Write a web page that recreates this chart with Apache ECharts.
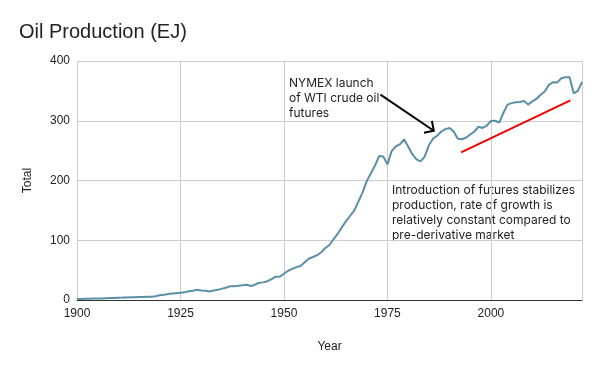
<!DOCTYPE html>
<html>
<head>
<meta charset="utf-8">
<script src="https://cdn.jsdelivr.net/npm/echarts@6/dist/echarts.min.js"></script>
<style>
  html, body { margin: 0; padding: 0; background: #fff; }
  #chart { width: 600px; height: 371px; }
</style>
</head>
<body>
<div id="chart"></div>
<script>
// ---- Data ----
const startYear = 1900;
const production = [
  1.5, 1.7, 1.9, 2.1, 2.4, 2.5, 2.6, 3.0, 3.3, 3.5,          // 1900-1909
  3.9, 4.0, 4.2, 4.5, 4.6, 4.9, 5.2, 5.6, 5.6, 6.3,          // 1910-1919
  7.8, 8.6, 9.9, 11.0, 11.5, 12.0, 12.8, 14.6, 15.6, 17.0,   // 1920-1929
  16.0, 15.3, 14.3, 15.8, 17.0, 19.0, 20.5, 23.2, 23.0, 24.0, // 1930-1939
  24.5, 25.5, 23.5, 25.5, 29.0, 29.5, 31.5, 35.0, 39.0, 39.0, // 1940-1949
  44, 49, 52, 55, 57, 63, 69, 72, 75, 80,                    // 1950-1959
  87, 92, 102, 111, 122, 132, 141, 150, 165, 180,            // 1960-1969
  199, 212, 225, 241, 240, 227, 249, 257, 260.5, 269,        // 1970-1979
  257, 244, 235.5, 232, 240, 259, 270, 275, 282, 286,        // 1980-1989
  288, 282, 270, 269, 271.5, 277, 282, 290, 288, 292,        // 1990-1999
  299.5, 300, 297, 313, 327, 329.5, 331, 331.5, 333, 327,    // 2000-2009
  332.5, 336.5, 343.5, 349, 360, 364.5, 364, 371, 373, 373,  // 2010-2019
  346, 350, 365                                              // 2020-2022
];
const years = production.map((_, i) => startYear + i);

// red trend annotation (year, value)
const trendYears = [1992.8, 2019.2];
const trendValues = [247, 334];

// arrow annotation (from, to) in (year, value)
const arrowYears = [1973.3, 1986.2];
const arrowValues = [343.6, 283.2];

const xTicks = [1900, 1925, 1950, 1975, 2000];
const yTicks = [0, 100, 200, 300, 400];

const titleText = 'Oil Production (EJ)';
const xName = 'Year';
const yName = 'Total';
const note1 = 'NYMEX launch\nof WTI crude oil\nfutures';
const note2 = 'Introduction of futures stabilizes\nproduction, rate of growth is\nrelatively constant compared to\npre-derivative market';

// ---- Chart ----
const chart = echarts.init(document.getElementById('chart'), null, { renderer: 'canvas' });
const axisFont = 'Liberation Sans, Arial, sans-serif';
const noteFont = 'Inter, sans-serif';

const option = {
  animation: false,
  backgroundColor: '#ffffff',
  title: {
    text: titleText,
    left: 14,
    top: 17,
    textStyle: { fontFamily: axisFont, fontSize: 20, fontWeight: 'normal', color: '#222' }
  },
  grid: { left: 77, right: 18, top: 61, bottom: 71, containLabel: false },
  xAxis: {
    type: 'value',
    min: xTicks[0],
    max: years[years.length - 1],
    interval: xTicks[1] - xTicks[0],
    name: xName,
    nameLocation: 'middle',
    nameGap: 41,
    nameTextStyle: { fontFamily: axisFont, fontSize: 12, color: '#222' },
    axisLine: { show: true, lineStyle: { color: '#333', width: 1 } },
    axisTick: { show: false },
    axisLabel: {
      fontFamily: axisFont, fontSize: 12, color: '#222', margin: 8,
      showMaxLabel: false,
      formatter: v => (xTicks.indexOf(v) >= 0 ? String(v) : '')
    },
    splitLine: { show: true, lineStyle: { color: '#cccccc', width: 1 } }
  },
  yAxis: {
    type: 'value',
    min: yTicks[0],
    max: yTicks[yTicks.length - 1],
    interval: yTicks[1] - yTicks[0],
    name: yName,
    nameLocation: 'middle',
    nameGap: 43,
    nameRotate: 90,
    nameTextStyle: { fontFamily: axisFont, fontSize: 12, color: '#222' },
    axisLine: { show: false },
    axisTick: { show: false },
    axisLabel: { fontFamily: axisFont, fontSize: 12, color: '#222', margin: 7 },
    splitLine: { show: true, lineStyle: { color: '#cccccc', width: 1 } }
  },
  series: [
    {
      type: 'line',
      name: 'Total',
      data: years.map((y, i) => [y, production[i]]),
      showSymbol: false,
      smooth: false,
      lineStyle: { color: '#5b8fa8', width: 2 },
      itemStyle: { color: '#5b8fa8' },
      z: 3
    },
    {
      type: 'line',
      name: 'trend',
      data: trendYears.map((y, i) => [y, trendValues[i]]),
      showSymbol: false,
      lineStyle: { color: '#f00000', width: 2 },
      z: 4
    },
    {
      type: 'custom',
      name: 'arrow',
      coordinateSystem: 'cartesian2d',
      data: [[arrowYears[0], arrowValues[0], arrowYears[1], arrowValues[1]]],
      renderItem: function (params, api) {
        const p1 = api.coord([api.value(0), api.value(1)]);
        const p2 = api.coord([api.value(2), api.value(3)]);
        const ang = Math.atan2(p1[1] - p2[1], p1[0] - p2[0]);
        const L = 10, spread = Math.PI / 4;
        const a1 = [p2[0] + L * Math.cos(ang + spread), p2[1] + L * Math.sin(ang + spread)];
        const a2 = [p2[0] + L * Math.cos(ang - spread), p2[1] + L * Math.sin(ang - spread)];
        return {
          type: 'group',
          children: [
            { type: 'line', shape: { x1: p1[0], y1: p1[1], x2: p2[0], y2: p2[1] },
              style: { stroke: '#000', lineWidth: 2 } },
            { type: 'polyline', shape: { points: [a1, p2, a2] },
              style: { stroke: '#000', lineWidth: 2, fill: null } }
          ]
        };
      },
      z: 5
    }
  ],
  graphic: [
    {
      type: 'text', left: 289, top: 76,
      style: { text: note1, font: '12px ' + noteFont, fill: '#222', lineHeight: 15 }
    },
    {
      type: 'text', left: 392, top: 183,
      style: { text: note2, font: '12px ' + noteFont, fill: '#222', lineHeight: 15 }
    }
  ]
};
chart.setOption(option);
</script>
</body>
</html>
